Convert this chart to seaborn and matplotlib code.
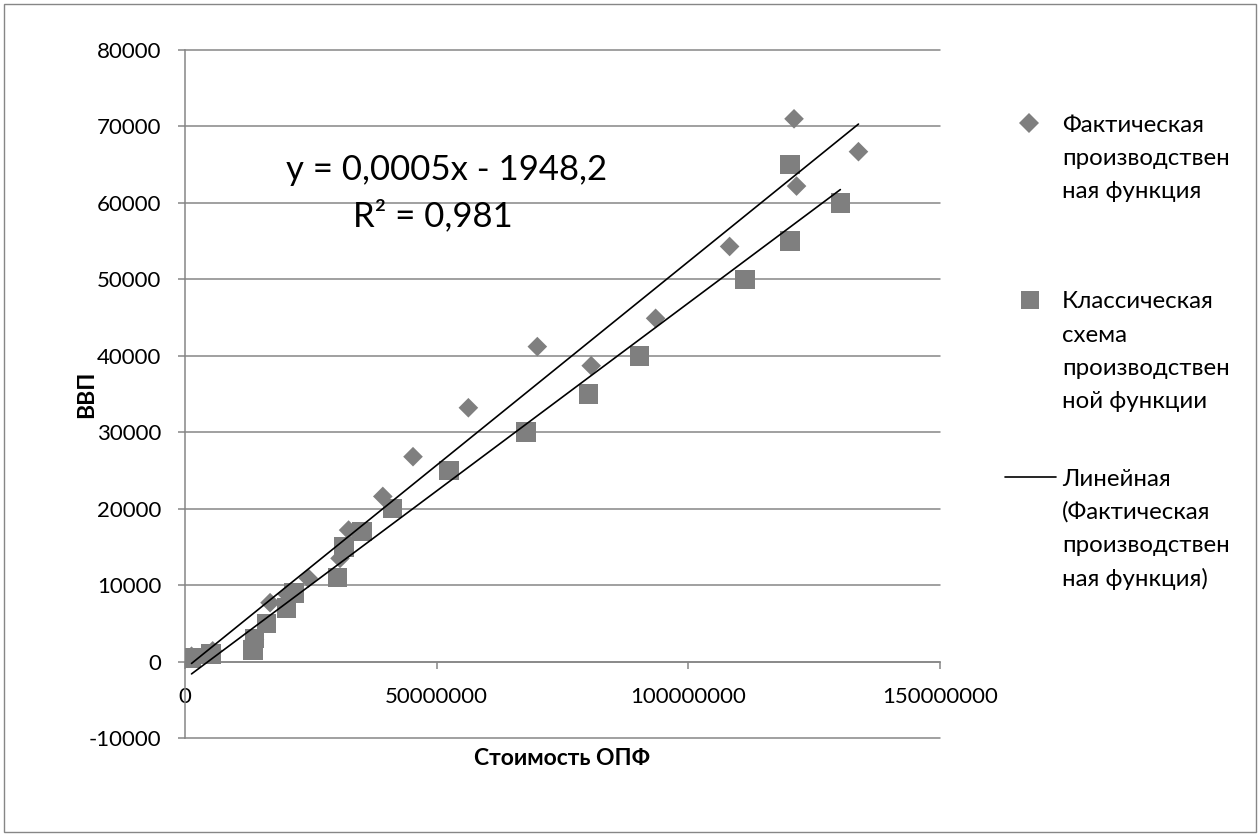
import numpy as np
import pandas as pd
import seaborn as sns
import matplotlib
matplotlib.use("Agg")
import matplotlib.pyplot as plt
from matplotlib.lines import Line2D
from matplotlib.patches import Rectangle
from matplotlib.ticker import FixedLocator, FuncFormatter

# ---------------- data ----------------
fact_x = [1.3e6, 5.5e6, 13.8e6, 16.9e6, 20.3e6, 24.5e6, 30.8e6, 32.5e6, 39.3e6,
          45.3e6, 56.3e6, 70.0e6, 80.7e6, 93.5e6, 108.2e6, 121.0e6, 121.5e6, 133.8e6]
fact_y = [700, 1400, 2900, 7700, 8800, 10900, 13500, 17200, 21600,
          26800, 33200, 41200, 38700, 44900, 54300, 71000, 62200, 66700]

class_x = [1.3e6, 5.2e6, 13.5e6, 13.8e6, 16.2e6, 20.2e6, 21.7e6, 30.3e6, 31.6e6,
           35.2e6, 41.2e6, 52.4e6, 67.8e6, 80.2e6, 90.3e6, 111.2e6, 120.2e6, 120.2e6, 130.2e6]
class_y = [500, 1000, 1500, 3000, 5000, 7000, 9000, 11000, 15000,
           17000, 20000, 25000, 30000, 35000, 40000, 50000, 55000, 65000, 60000]

x_ticks = [0, 50000000, 100000000, 150000000]
y_ticks = [-10000, 0, 10000, 20000, 30000, 40000, 50000, 60000, 70000, 80000]

legend_labels = ["Фактическая\nпроизводствен\nная функция",
                 "Классическая\nсхема\nпроизводствен\nной функции",
                 "Линейная\n(Фактическая\nпроизводствен\nная функция)"]
eq_text = "y = 0,0005x - 1948,2"
r2_text = "R² = 0,981"
x_label = "Стоимость ОПФ"
y_label = "ВВП"

# ---------------- style ----------------
sns.set_theme(style="white")
plt.rcParams["font.family"] = ["Lato", "DejaVu Sans"]
plt.rcParams["axes.unicode_minus"] = False

GRID = "#868686"
MARK = "#7f7f7f"
W, H = 1260, 836

fig = plt.figure(figsize=(W / 100, H / 100), dpi=100)
fig.patch.set_facecolor("white")
ax = fig.add_axes([185 / W, 1 - 738 / H, 755 / W, 688 / H])
ax.set_facecolor("white")

df_f = pd.DataFrame({"x": fact_x, "y": fact_y})
df_c = pd.DataFrame({"x": class_x, "y": class_y})

sns.scatterplot(data=df_f, x="x", y="y", marker="D", s=100, color=MARK,
                edgecolor="none", linewidth=0, ax=ax, zorder=3)
sns.scatterplot(data=df_c, x="x", y="y", marker="s", s=200, color=MARK,
                edgecolor="none", linewidth=0, ax=ax, zorder=3.5)
sns.regplot(data=df_f, x="x", y="y", scatter=False, ci=None, truncate=True,
            color="black", line_kws={"lw": 1.2, "zorder": 5}, ax=ax)
sns.regplot(data=df_c, x="x", y="y", scatter=False, ci=None, truncate=True,
            color="black", line_kws={"lw": 1.2, "zorder": 5}, ax=ax)

ax.set_xlim(0, 150000000)
ax.set_ylim(-10000, 80000)
ax.xaxis.set_major_locator(FixedLocator(x_ticks))
ax.yaxis.set_major_locator(FixedLocator(y_ticks))
ax.xaxis.set_major_formatter(FuncFormatter(lambda v, p: f"{int(round(v))}"))
ax.yaxis.set_major_formatter(FuncFormatter(lambda v, p: f"{int(round(v))}"))

ax.grid(False)
ax.yaxis.grid(True, color=GRID, lw=1.1)
for gl in ax.yaxis.get_gridlines():
    gl.set_clip_on(False)
ax.set_axisbelow(True)

for s in ["top", "right"]:
    ax.spines[s].set_visible(False)
ax.spines["left"].set_color(GRID)
ax.spines["left"].set_linewidth(1.1)
ax.spines["bottom"].set_position(("data", 0))
ax.spines["bottom"].set_color(GRID)
ax.spines["bottom"].set_linewidth(1.1)

ax.tick_params(axis="both", which="major", direction="out", length=5, width=1.1,
               color=GRID, labelsize=16, labelcolor="black")
ax.tick_params(axis="x", pad=13, bottom=True)
ax.tick_params(axis="y", pad=12, left=True)

ax.set_xlabel(x_label, fontsize=16.5, fontweight="bold", color="black")
ax.set_ylabel(y_label, fontsize=16.5, fontweight="bold", color="black")
ax.xaxis.set_label_coords(0.5, -0.014)
ax.yaxis.set_label_coords(-0.117, 0.5)

# trendline equation
ax.text((447 - 185) / 755, (738 - 170) / 688, eq_text, transform=ax.transAxes,
        ha="center", va="center", fontsize=25, color="black")
ax.text((433 - 185) / 755, (738 - 216) / 688, r2_text, transform=ax.transAxes,
        ha="center", va="center", fontsize=25, color="black")

# legend (drawn manually to match first-line alignment)
def fx(px):
    return px / W

def fy(py):
    return 1 - py / H

fig.add_artist(Line2D([fx(1029)], [fy(123)], marker="D", markersize=9.8, color=MARK,
                      markeredgewidth=0, linestyle="none", transform=fig.transFigure))
fig.add_artist(Line2D([fx(1030)], [fy(300)], marker="s", markersize=13, color=MARK,
                      markeredgewidth=0, linestyle="none", transform=fig.transFigure))
fig.add_artist(Line2D([fx(1005), fx(1056)], [fy(477), fy(477)], color="black", lw=1.2,
                      transform=fig.transFigure))
starts = [123, 300, 477]
pitch = 33.3
for lab, y0 in zip(legend_labels, starts):
    for i, line in enumerate(lab.split("\n")):
        fig.text(fx(1062), fy(y0 + i * pitch), line, ha="left", va="center_baseline",
                 fontsize=17.3, color="black")

# outer chart border
fig.add_artist(Rectangle((4 / W, 4 / H), 1 - 8 / W, 1 - 8 / H, transform=fig.transFigure,
                         fill=False, edgecolor=GRID, lw=1.0))

fig.savefig("out.png", dpi=100, facecolor="white")
